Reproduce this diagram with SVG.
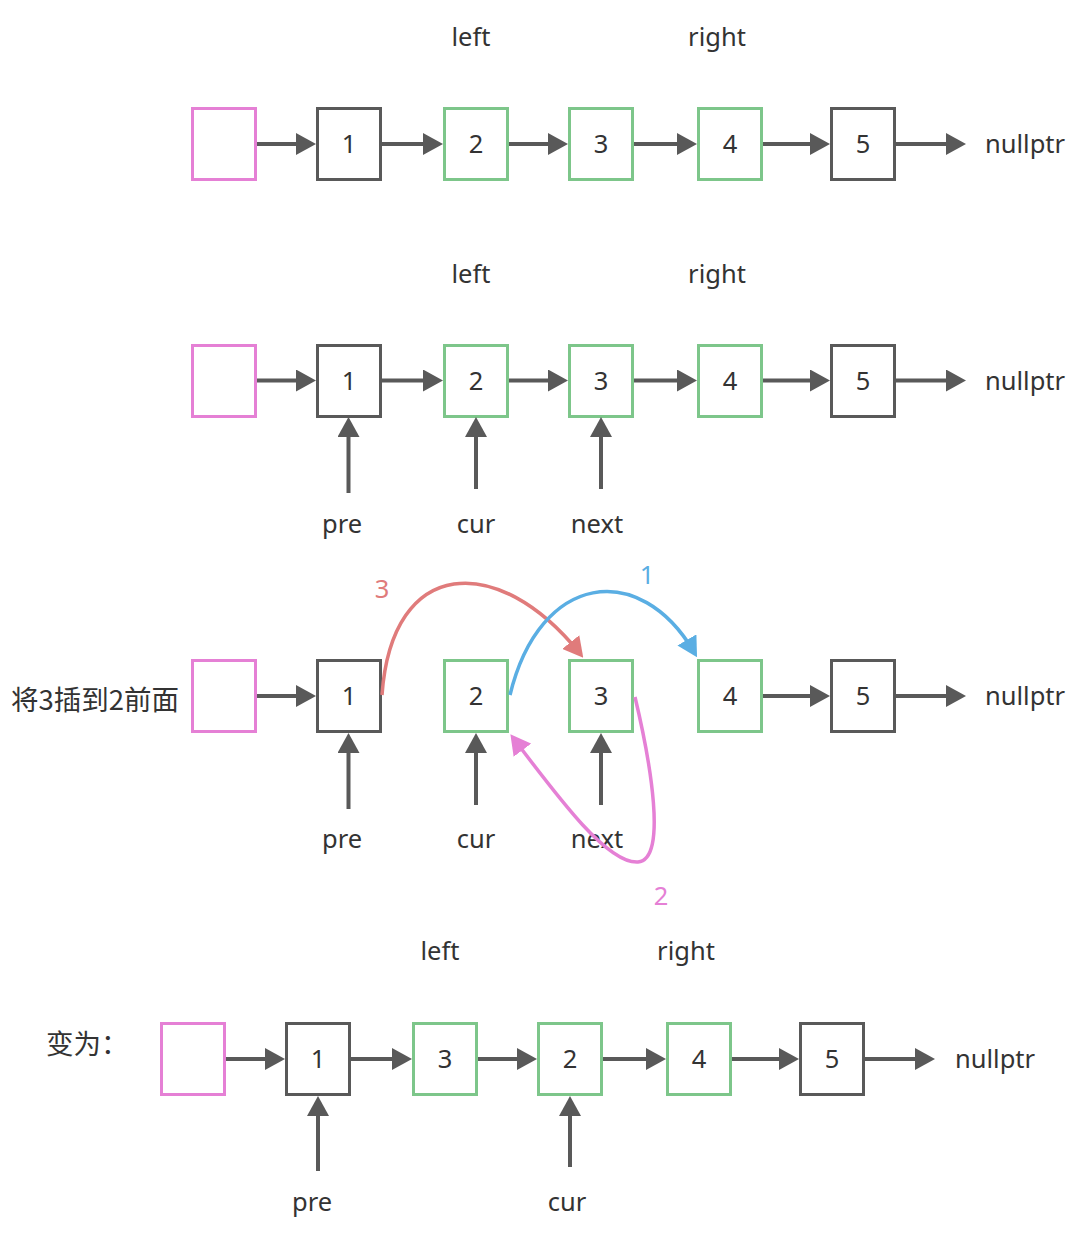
<svg xmlns="http://www.w3.org/2000/svg" width="1077" height="1237" viewBox="0 0 1077 1237">
<defs>
<style>
.bx{fill:#fff;stroke-width:3;}
.pk{stroke:#e580d5;}
.gr{stroke:#7dc68a;}
.dk{stroke:#595959;}
.t{font-family:"Noto Sans","Noto Sans CJK SC",sans-serif;font-size:25.5px;fill:#333;}
.c{text-anchor:middle;}
.cn{font-family:"Noto Sans CJK SC","Noto Sans",sans-serif;font-size:27.5px;fill:#333;}
.ln{stroke:#595959;stroke-width:4;fill:none;marker-end:url(#ah);}
.cv{stroke-width:3.5;fill:none;}
</style>
<marker id="ah" viewBox="0 0 20 22" refX="14" refY="11" markerWidth="20" markerHeight="22" markerUnits="userSpaceOnUse" orient="auto"><path d="M0,0 L20,11 L0,22 z" fill="#595959"/></marker>
<marker id="ahr" viewBox="0 0 20 22" refX="14" refY="11" markerWidth="20" markerHeight="22" markerUnits="userSpaceOnUse" orient="auto"><path d="M0,0 L20,11 L0,22 z" fill="#e07b7b"/></marker>
<marker id="ahb" viewBox="0 0 20 22" refX="14" refY="11" markerWidth="20" markerHeight="22" markerUnits="userSpaceOnUse" orient="auto"><path d="M0,0 L20,11 L0,22 z" fill="#5aaee3"/></marker>
<marker id="ahp" viewBox="0 0 20 22" refX="14" refY="11" markerWidth="20" markerHeight="22" markerUnits="userSpaceOnUse" orient="auto"><path d="M0,0 L20,11 L0,22 z" fill="#e580d5"/></marker>
</defs>
<rect width="1077" height="1237" fill="#fff"/>

<!-- Row 1 -->
<g id="r1-head"><rect class="bx pk" x="192.5" y="108.5" width="63" height="71"/></g>
<g id="r1-n1"><rect class="bx dk" x="317.5" y="108.5" width="63" height="71"/><text class="t c" x="349" y="153">1</text></g>
<g id="r1-n2"><rect class="bx gr" x="444.5" y="108.5" width="63" height="71"/><text class="t c" x="476" y="153">2</text></g>
<g id="r1-n3"><rect class="bx gr" x="569.5" y="108.5" width="63" height="71"/><text class="t c" x="601" y="153">3</text></g>
<g id="r1-n4"><rect class="bx gr" x="698.5" y="108.5" width="63" height="71"/><text class="t c" x="730" y="153">4</text></g>
<g id="r1-n5"><rect class="bx dk" x="831.5" y="108.5" width="63" height="71"/><text class="t c" x="863" y="153">5</text></g>
<g id="r1-labels"><text class="t" x="985" y="153">nullptr</text><text class="t c" x="471" y="46">left</text><text class="t c" x="717" y="46">right</text></g>

<!-- Row 2 -->
<g id="r2-head"><rect class="bx pk" x="192.5" y="345.5" width="63" height="71"/></g>
<g id="r2-n1"><rect class="bx dk" x="317.5" y="345.5" width="63" height="71"/><text class="t c" x="349" y="390">1</text></g>
<g id="r2-n2"><rect class="bx gr" x="444.5" y="345.5" width="63" height="71"/><text class="t c" x="476" y="390">2</text></g>
<g id="r2-n3"><rect class="bx gr" x="569.5" y="345.5" width="63" height="71"/><text class="t c" x="601" y="390">3</text></g>
<g id="r2-n4"><rect class="bx gr" x="698.5" y="345.5" width="63" height="71"/><text class="t c" x="730" y="390">4</text></g>
<g id="r2-n5"><rect class="bx dk" x="831.5" y="345.5" width="63" height="71"/><text class="t c" x="863" y="390">5</text></g>
<g id="r2-labels"><text class="t" x="985" y="390">nullptr</text><text class="t c" x="471" y="283">left</text><text class="t c" x="717" y="283">right</text>
<text class="t c" x="342" y="533">pre</text><text class="t c" x="476" y="533">cur</text><text class="t c" x="597" y="533">next</text></g>

<!-- Row 3 -->
<g id="r3-title"><text class="cn" x="11" y="710">将3插到2前面</text></g>
<g id="r3-head"><rect class="bx pk" x="192.5" y="660.5" width="63" height="71"/></g>
<g id="r3-n1"><rect class="bx dk" x="317.5" y="660.5" width="63" height="71"/><text class="t c" x="349" y="705">1</text></g>
<g id="r3-n2"><rect class="bx gr" x="444.5" y="660.5" width="63" height="71"/><text class="t c" x="476" y="705">2</text></g>
<g id="r3-n3"><rect class="bx gr" x="569.5" y="660.5" width="63" height="71"/><text class="t c" x="601" y="705">3</text></g>
<g id="r3-n4"><rect class="bx gr" x="698.5" y="660.5" width="63" height="71"/><text class="t c" x="730" y="705">4</text></g>
<g id="r3-n5"><rect class="bx dk" x="831.5" y="660.5" width="63" height="71"/><text class="t c" x="863" y="705">5</text></g>
<g id="r3-labels"><text class="t" x="985" y="705">nullptr</text>
<text class="t c" x="342" y="848">pre</text><text class="t c" x="476" y="848">cur</text><text class="t c" x="597" y="848">next</text>
<text class="t c" x="382" y="598" style="fill:#e07b7b">3</text>
<text class="t c" x="647" y="584" style="fill:#5aaee3">1</text>
<text class="t c" x="661" y="905" style="fill:#e580d5">2</text></g>

<!-- Row 4 -->
<g id="r4-title"><text class="cn" x="46" y="1054">变为：</text></g>
<g id="r4-head"><rect class="bx pk" x="161.5" y="1023.5" width="63" height="71"/></g>
<g id="r4-n1"><rect class="bx dk" x="286.5" y="1023.5" width="63" height="71"/><text class="t c" x="318" y="1068">1</text></g>
<g id="r4-n3"><rect class="bx gr" x="413.5" y="1023.5" width="63" height="71"/><text class="t c" x="445" y="1068">3</text></g>
<g id="r4-n2"><rect class="bx gr" x="538.5" y="1023.5" width="63" height="71"/><text class="t c" x="570" y="1068">2</text></g>
<g id="r4-n4"><rect class="bx gr" x="667.5" y="1023.5" width="63" height="71"/><text class="t c" x="699" y="1068">4</text></g>
<g id="r4-n5"><rect class="bx dk" x="800.5" y="1023.5" width="63" height="71"/><text class="t c" x="832" y="1068">5</text></g>
<g id="r4-labels"><text class="t" x="955" y="1068">nullptr</text><text class="t c" x="440" y="960">left</text><text class="t c" x="686" y="960">right</text>
<text class="t c" x="312" y="1211">pre</text><text class="t c" x="567" y="1211">cur</text></g>

<g id="connectors">
<!-- row 1 -->
<line class="ln" x1="257" y1="144" x2="310" y2="144"/>
<line class="ln" x1="382" y1="144" x2="437" y2="144"/>
<line class="ln" x1="509" y1="144" x2="562" y2="144"/>
<line class="ln" x1="634" y1="144" x2="691" y2="144"/>
<line class="ln" x1="763" y1="144" x2="824" y2="144"/>
<line class="ln" x1="896" y1="144" x2="960" y2="144"/>
<!-- row 2 -->
<line class="ln" x1="257" y1="380.5" x2="310" y2="380.5"/>
<line class="ln" x1="382" y1="380.5" x2="437" y2="380.5"/>
<line class="ln" x1="509" y1="380.5" x2="562" y2="380.5"/>
<line class="ln" x1="634" y1="380.5" x2="691" y2="380.5"/>
<line class="ln" x1="763" y1="380.5" x2="824" y2="380.5"/>
<line class="ln" x1="896" y1="380.5" x2="960" y2="380.5"/>
<line class="ln" x1="348.5" y1="493" x2="348.5" y2="423"/>
<line class="ln" x1="476" y1="489" x2="476" y2="423"/>
<line class="ln" x1="601" y1="489" x2="601" y2="423"/>
<!-- row 3 -->
<line class="ln" x1="257" y1="696" x2="310" y2="696"/>
<line class="ln" x1="763" y1="696" x2="824" y2="696"/>
<line class="ln" x1="896" y1="696" x2="960" y2="696"/>
<line class="ln" x1="348.5" y1="809" x2="348.5" y2="739"/>
<line class="ln" x1="476" y1="805" x2="476" y2="739"/>
<line class="ln" x1="601" y1="805" x2="601" y2="739"/>
<path class="cv" stroke="#e07b7b" marker-end="url(#ahr)" d="M382,695 C392,556 498,552 579.5,653"/>
<path class="cv" stroke="#5aaee3" marker-end="url(#ahb)" d="M510,695 C540,572 640,560 694,652"/>
<path class="cv" stroke="#e580d5" marker-end="url(#ahp)" d="M635,697 C650,760 668,860 638,862 C608,864 560,800 514,739"/>
<!-- row 4 -->
<line class="ln" x1="226" y1="1059" x2="279" y2="1059"/>
<line class="ln" x1="351" y1="1059" x2="406" y2="1059"/>
<line class="ln" x1="478" y1="1059" x2="531" y2="1059"/>
<line class="ln" x1="603" y1="1059" x2="660" y2="1059"/>
<line class="ln" x1="732" y1="1059" x2="793" y2="1059"/>
<line class="ln" x1="865" y1="1059" x2="929" y2="1059"/>
<line class="ln" x1="318" y1="1171" x2="318" y2="1102"/>
<line class="ln" x1="570" y1="1167" x2="570" y2="1102"/>
</g>
</svg>
